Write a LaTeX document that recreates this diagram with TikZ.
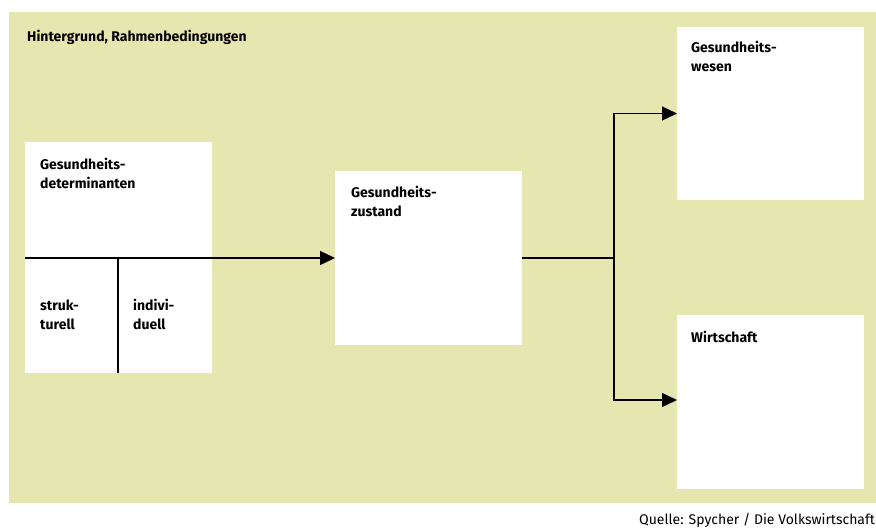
\documentclass[tikz,border=0pt]{standalone}
\usepackage{fontspec}
\setmainfont{Fira Sans}
\usetikzlibrary{arrows.meta}
\definecolor{bggreen}{RGB}{230,230,176}
\tikzset{
  box/.style={fill=white, draw=none, inner sep=0pt, outer sep=0pt},
  lbl/.style={anchor=base west, inner sep=0pt, font=\fontsize{14}{16}\selectfont\bfseries},
  conn/.style={line width=1.3pt, black},
  arr/.style={conn, -{Triangle[length=15pt,width=14pt]}}
}
\begin{document}
\begin{tikzpicture}[x=1pt,y=-1pt]
\useasboundingbox (0,0) rectangle (876,528);
\fill[bggreen] (9,12) rectangle (876,503);
\node[box, minimum width=187pt, minimum height=231pt, anchor=north west] (det) at (25,142) {};
\node[box, minimum width=187pt, minimum height=174pt, anchor=north west] (zust) at (335,171) {};
\node[box, minimum width=187pt, minimum height=173pt, anchor=north west] (wesen) at (677,27) {};
\node[box, minimum width=187pt, minimum height=174pt, anchor=north west] (wirt) at (677,315) {};
\node[lbl] (bgl) at (27,41) {Hintergrund, Rahmenbedingungen};
\node[lbl] (t1) at (40,169) {Gesundheits-};
\node[lbl] (t2) at (40,188) {determinanten};
\node[lbl] (t3) at (40,310) {struk-};
\node[lbl] (t4) at (40,329) {turell};
\node[lbl] (t5) at (133,310) {indivi-};
\node[lbl] (t6) at (133,329) {duell};
\node[lbl] (t7) at (351,197) {Gesundheits-};
\node[lbl] (t8) at (351,216) {zustand};
\node[lbl] (t9) at (691,52) {Gesundheits-};
\node[lbl] (t10) at (691,71) {wesen};
\node[lbl] (t11) at (691,342) {Wirtschaft};
\node[anchor=base east, inner sep=0pt, font=\fontsize{14}{16}\selectfont] (src) at (875,524) {Quelle: Spycher / Die Volkswirtschaft};
\coordinate (dl) at (25,258);
\coordinate (dm) at (118,258);
\coordinate (db) at (118,373);
\coordinate (br) at (614,258);
\draw[arr] (dl) -- (zust.west);
\draw[conn] (dm) -- (db);
\draw[conn] (zust.east) -- (br);
\draw[arr] (br) |- (wesen.west);
\draw[arr] (br) |- ([yshift=2pt]wirt.west);
\end{tikzpicture}
\end{document}
